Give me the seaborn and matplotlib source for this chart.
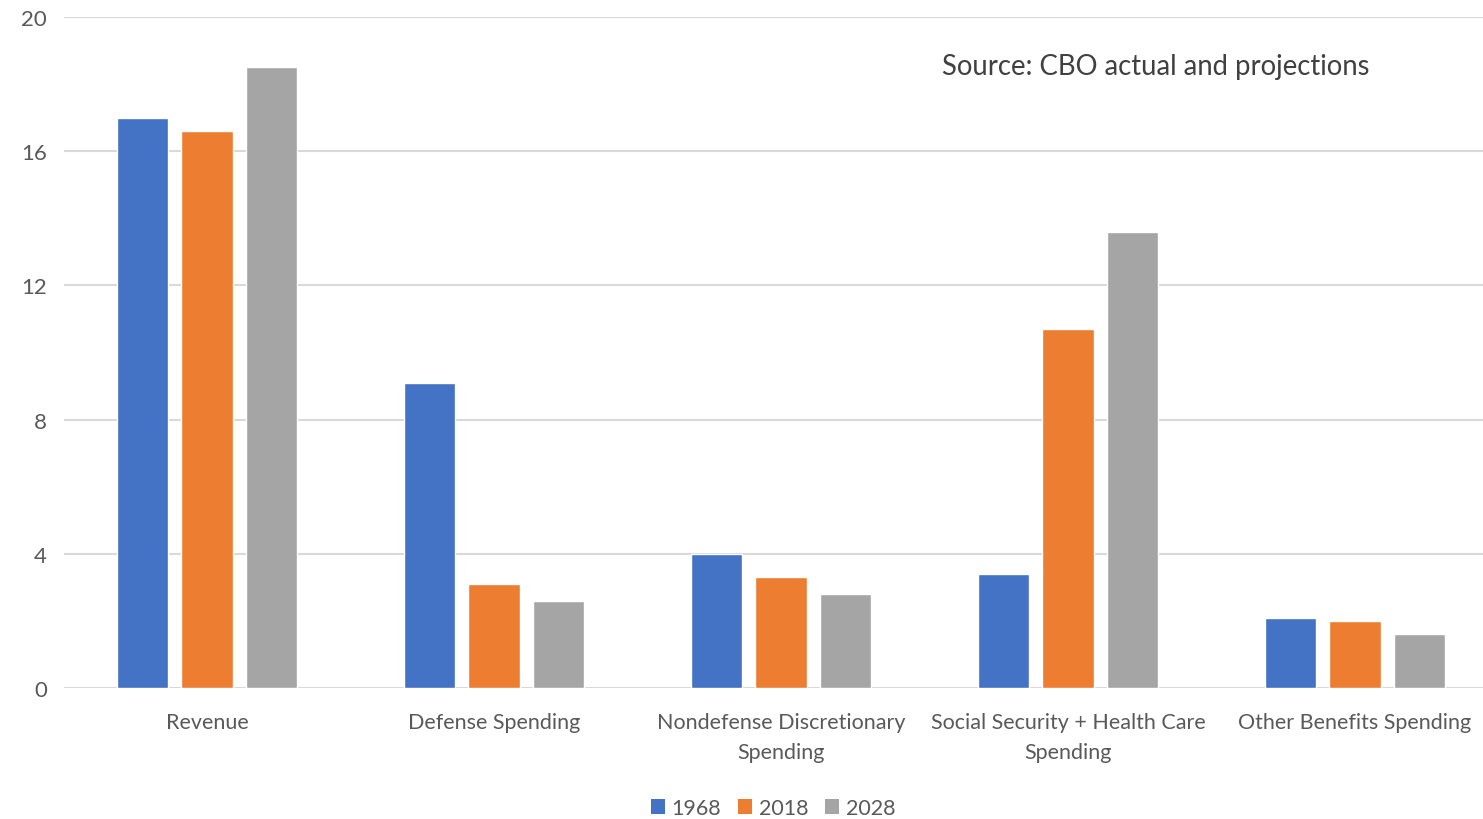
import matplotlib
matplotlib.use("Agg")
import matplotlib.pyplot as plt
import seaborn as sns
import pandas as pd
from matplotlib.patches import Patch

categories = ["Revenue", "Defense Spending", "Nondefense Discretionary\nSpending",
              "Social Security + Health Care\nSpending", "Other Benefits Spending"]
years = ["1968", "2018", "2028"]
v1968 = [17.0, 9.1, 4.0, 3.4, 2.1]
v2018 = [16.6, 3.1, 3.3, 10.7, 2.0]
v2028 = [18.5, 2.6, 2.8, 13.6, 1.6]
colors = ["#4472C4", "#ED7D31", "#A5A5A5"]
yticks = [0, 4, 8, 12, 16, 20]

rows = []
for yr, vals in zip(years, [v1968, v2018, v2028]):
    for c, v in zip(categories, vals):
        rows.append({"category": c, "year": yr, "value": v})
df = pd.DataFrame(rows)

sns.set_theme(style="white")
plt.rcParams['font.family'] = ['Lato', 'DejaVu Sans']
text_color = "#595959"

fig = plt.figure(figsize=(14.83, 8.2), dpi=100)
ax = fig.add_axes([63.5/1483, 1-689/820, 1435/1483, (689-18)/820])
sns.barplot(data=df, x="category", y="value", hue="year", hue_order=years,
            palette=colors, width=0.672, gap=0.2, ax=ax, legend=False,
            saturation=1, zorder=3)
ax.set_xlim(-0.5, 4.5)
ax.set_ylim(0, 20)
ax.set_yticks(yticks)
ax.grid(axis="y", color="#D9D9D9", linewidth=1.5, zorder=0)
ax.set_axisbelow(True)
for s in ax.spines.values():
    s.set_visible(False)
ax.set_xlabel("")
ax.set_ylabel("")
ax.tick_params(axis="both", length=0, colors=text_color, labelsize=15.5)
ax.tick_params(axis="y", pad=12)
ax.tick_params(axis="x", pad=17)
for lab in ax.get_xticklabels():
    lab.set_linespacing(1.65)
    lab.set_color(text_color)
for lab in ax.get_yticklabels():
    lab.set_fontsize(16)

fig.text(1156/1483, 1-67/820, "Source: CBO actual and projections", ha="center", va="center",
         fontsize=19.8, color="#404040")

handles = [Patch(facecolor=c, edgecolor="none") for c in colors]
fig.legend(handles, years, loc="center", bbox_to_anchor=(773/1483, 1-809/820), ncol=3,
           frameon=False, fontsize=15.5, handlelength=0.65, handleheight=0.65,
           handletextpad=0.3, columnspacing=0.8, labelcolor=text_color)

fig.savefig("out.png", dpi=100)
